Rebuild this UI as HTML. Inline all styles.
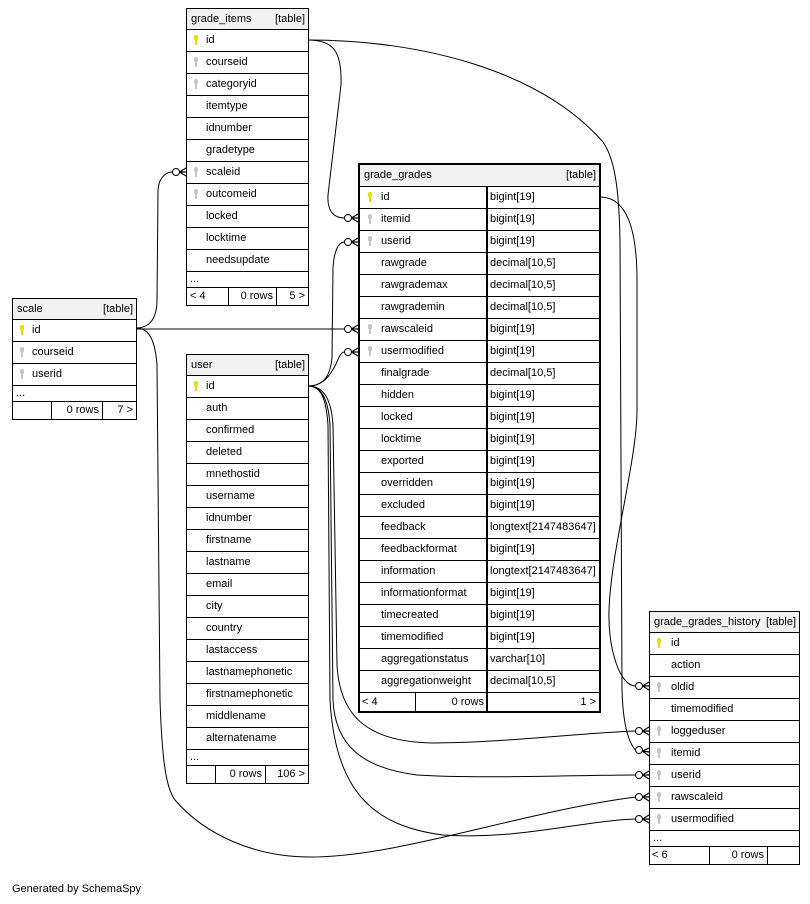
<!DOCTYPE html>
<html><head><meta charset="utf-8"><style>
body{margin:0;width:810px;height:904px;background:#fff;position:relative;font-family:"Liberation Sans",Arial,sans-serif;font-size:11px;color:#000;overflow:hidden}
.t{position:absolute;border:1px solid #000;background:#fff;box-sizing:border-box}
.g{border:2px solid #000}
.h{height:20px;background:#f2f2f2;position:relative;line-height:20px}
.g .h{height:21px;line-height:21px}
.h .n{position:absolute;left:4px}
.h .k{position:absolute;right:3px}
.r{height:22px;border-top:1px solid #000;box-sizing:border-box;position:relative;line-height:21px}
.r .c{position:absolute;left:19px;top:0}
.g .r .c{left:21px}
.r .ty{position:absolute;left:126px;top:0;bottom:0;border-left:2px solid #000;padding-left:2px;right:0}
.d{height:16px;border-top:1px solid #000;box-sizing:border-box;line-height:15px;padding-left:3px}
.f{height:18px;border-top:1px solid #000;box-sizing:border-box;position:relative;line-height:17px}
.g .f{height:19px;line-height:18px}
.f div{position:absolute;top:0;bottom:0;box-sizing:border-box}
.key{position:absolute;left:7px;top:5px;width:4px;height:11px}
.g .key{left:8px}
.key b{position:absolute;left:0;top:0;width:4px;height:5px;border-radius:2px 2px 1px 1px}
.key i{position:absolute;left:1px;top:4px;width:2px;height:6px}
.pk b,.pk i{background:#e8dc00}
.fk b,.fk i{background:#c6c6c6}
svg{position:absolute;left:0;top:0}
</style></head><body>

<!-- grade_items -->
<div class="t" style="left:186px;top:8px;width:123px;height:298px">
<div class="h"><span class="n">grade_items</span><span class="k">[table]</span></div>
<div class="r"><span class="key pk"><b></b><i></i></span><span class="c">id</span></div>
<div class="r"><span class="key fk"><b></b><i></i></span><span class="c">courseid</span></div>
<div class="r"><span class="key fk"><b></b><i></i></span><span class="c">categoryid</span></div>
<div class="r"><span class="c">itemtype</span></div>
<div class="r"><span class="c">idnumber</span></div>
<div class="r"><span class="c">gradetype</span></div>
<div class="r"><span class="key fk"><b></b><i></i></span><span class="c">scaleid</span></div>
<div class="r"><span class="key fk"><b></b><i></i></span><span class="c">outcomeid</span></div>
<div class="r"><span class="c">locked</span></div>
<div class="r"><span class="c">locktime</span></div>
<div class="r"><span class="c">needsupdate</span></div>
<div class="d">...</div>
<div class="f"><div style="left:0;width:42px;border-right:1px solid #000;padding-left:3px">&lt; 4</div><div style="left:42px;width:48px;border-right:1px solid #000;text-align:right;padding-right:3px">0 rows</div><div style="left:90px;right:0;text-align:right;padding-right:3px">5 &gt;</div></div>
</div>

<!-- scale -->
<div class="t" style="left:12px;top:298px;width:125px;height:122px">
<div class="h"><span class="n">scale</span><span class="k">[table]</span></div>
<div class="r"><span class="key pk"><b></b><i></i></span><span class="c">id</span></div>
<div class="r"><span class="key fk"><b></b><i></i></span><span class="c">courseid</span></div>
<div class="r"><span class="key fk"><b></b><i></i></span><span class="c">userid</span></div>
<div class="d">...</div>
<div class="f"><div style="left:0;width:39px;border-right:1px solid #000"></div><div style="left:39px;width:51px;border-right:1px solid #000;text-align:right;padding-right:3px">0 rows</div><div style="left:90px;right:0;text-align:right;padding-right:3px">7 &gt;</div></div>
</div>

<!-- user -->
<div class="t" style="left:186px;top:354px;width:123px;height:430px">
<div class="h"><span class="n">user</span><span class="k">[table]</span></div>
<div class="r"><span class="key pk"><b></b><i></i></span><span class="c">id</span></div>
<div class="r"><span class="c">auth</span></div>
<div class="r"><span class="c">confirmed</span></div>
<div class="r"><span class="c">deleted</span></div>
<div class="r"><span class="c">mnethostid</span></div>
<div class="r"><span class="c">username</span></div>
<div class="r"><span class="c">idnumber</span></div>
<div class="r"><span class="c">firstname</span></div>
<div class="r"><span class="c">lastname</span></div>
<div class="r"><span class="c">email</span></div>
<div class="r"><span class="c">city</span></div>
<div class="r"><span class="c">country</span></div>
<div class="r"><span class="c">lastaccess</span></div>
<div class="r"><span class="c">lastnamephonetic</span></div>
<div class="r"><span class="c">firstnamephonetic</span></div>
<div class="r"><span class="c">middlename</span></div>
<div class="r"><span class="c">alternatename</span></div>
<div class="d">...</div>
<div class="f"><div style="left:0;width:29px;border-right:1px solid #000"></div><div style="left:29px;width:50px;border-right:1px solid #000;text-align:right;padding-right:3px">0 rows</div><div style="left:79px;right:0;text-align:right;padding-right:3px">106 &gt;</div></div>
</div>

<!-- grade_grades -->
<div class="t g" style="left:358px;top:163px;width:243px;height:550px">
<div class="h"><span class="n">grade_grades</span><span class="k">[table]</span></div>
<div class="r"><span class="key pk"><b></b><i></i></span><span class="c">id</span><span class="ty">bigint[19]</span></div>
<div class="r"><span class="key fk"><b></b><i></i></span><span class="c">itemid</span><span class="ty">bigint[19]</span></div>
<div class="r"><span class="key fk"><b></b><i></i></span><span class="c">userid</span><span class="ty">bigint[19]</span></div>
<div class="r"><span class="c">rawgrade</span><span class="ty">decimal[10,5]</span></div>
<div class="r"><span class="c">rawgrademax</span><span class="ty">decimal[10,5]</span></div>
<div class="r"><span class="c">rawgrademin</span><span class="ty">decimal[10,5]</span></div>
<div class="r"><span class="key fk"><b></b><i></i></span><span class="c">rawscaleid</span><span class="ty">bigint[19]</span></div>
<div class="r"><span class="key fk"><b></b><i></i></span><span class="c">usermodified</span><span class="ty">bigint[19]</span></div>
<div class="r"><span class="c">finalgrade</span><span class="ty">decimal[10,5]</span></div>
<div class="r"><span class="c">hidden</span><span class="ty">bigint[19]</span></div>
<div class="r"><span class="c">locked</span><span class="ty">bigint[19]</span></div>
<div class="r"><span class="c">locktime</span><span class="ty">bigint[19]</span></div>
<div class="r"><span class="c">exported</span><span class="ty">bigint[19]</span></div>
<div class="r"><span class="c">overridden</span><span class="ty">bigint[19]</span></div>
<div class="r"><span class="c">excluded</span><span class="ty">bigint[19]</span></div>
<div class="r"><span class="c">feedback</span><span class="ty">longtext[2147483647]</span></div>
<div class="r"><span class="c">feedbackformat</span><span class="ty">bigint[19]</span></div>
<div class="r"><span class="c">information</span><span class="ty">longtext[2147483647]</span></div>
<div class="r"><span class="c">informationformat</span><span class="ty">bigint[19]</span></div>
<div class="r"><span class="c">timecreated</span><span class="ty">bigint[19]</span></div>
<div class="r"><span class="c">timemodified</span><span class="ty">bigint[19]</span></div>
<div class="r"><span class="c">aggregationstatus</span><span class="ty">varchar[10]</span></div>
<div class="r"><span class="c">aggregationweight</span><span class="ty">decimal[10,5]</span></div>
<div class="f"><div style="left:0;width:56px;border-right:1px solid #000;padding-left:2px">&lt; 4</div><div style="left:56px;width:70px;text-align:right;padding-right:2px">0 rows</div><div style="left:126px;right:0;border-left:2px solid #000;text-align:right;padding-right:3px">1 &gt;</div></div>
</div>

<!-- grade_grades_history -->
<div class="t" style="left:649px;top:611px;width:151px;height:254px">
<div class="h"><span class="n">grade_grades_history</span><span class="k">[table]</span></div>
<div class="r"><span class="key pk"><b></b><i></i></span><span class="c" style="left:21px">id</span></div>
<div class="r"><span class="c" style="left:21px">action</span></div>
<div class="r"><span class="key fk"><b></b><i></i></span><span class="c" style="left:21px">oldid</span></div>
<div class="r"><span class="c" style="left:21px">timemodified</span></div>
<div class="r"><span class="key fk"><b></b><i></i></span><span class="c" style="left:21px">loggeduser</span></div>
<div class="r"><span class="key fk"><b></b><i></i></span><span class="c" style="left:21px">itemid</span></div>
<div class="r"><span class="key fk"><b></b><i></i></span><span class="c" style="left:21px">userid</span></div>
<div class="r"><span class="key fk"><b></b><i></i></span><span class="c" style="left:21px">rawscaleid</span></div>
<div class="r"><span class="key fk"><b></b><i></i></span><span class="c" style="left:21px">usermodified</span></div>
<div class="d">...</div>
<div class="f"><div style="left:0;width:60px;border-right:1px solid #000;padding-left:2px">&lt; 6</div><div style="left:60px;width:58px;border-right:1px solid #000;text-align:right;padding-right:3px">0 rows</div><div style="left:118px;right:0"></div></div>
</div>

<svg width="810" height="904" viewBox="0 0 810 904">
<g fill="none" stroke="#000" stroke-width="1">
<path d="M308,40 C334,40 342,52 341,85 L328,195 C327,210 333,218 344.5,218"/>
<path d="M308,40 C420,40 540,70 603,142 C614,158 619,185 620,240 L622,690 C623,722 628,742 635.5,750"/>
<path d="M136,328 C150,328 157,318 157,300 L158,192 C158,180 164,172 172.5,172"/>
<path d="M136,329 L344.5,329"/>
<path d="M136,328 C148,328 155,338 157,365 L160,700 C162,760 166,788 175,800 C205,835 255,857 310,857 C400,857 520,812 635.5,797"/>
<path d="M308,386 C322,386 330,378 332,358 L333,268 C334,252 338,242 344.5,242"/>
<path d="M308,386 C324,386 331,374 336,364 C339,357 341,352 344.5,352"/>
<path d="M308,386 C322,386 331,396 333,425 L337,665 C340,720 372,742 433,743 C500,743 580,733 635.5,731"/>
<path d="M308,386 C320,386 328,396 330,425 L333,700 C335,745 362,768 417,775 C480,779 580,775 635.5,775"/>
<path d="M308,386 C320,386 326,396 328,425 L330,700 C335,790 372,826 443,835 C520,840 580,821 635.5,819"/>
<path d="M600,197 C625,197 637,225 637,280 L637,410 C637,460 611,550 609,610 C608,650 620,686 635.5,686"/>
</g>
<g stroke="#000" stroke-width="1" fill="#fff">
<circle cx="348" cy="218" r="3.5"/><circle cx="348" cy="242" r="3.5"/><circle cx="348" cy="329" r="3.5"/><circle cx="348" cy="352" r="3.5"/>
<circle cx="176" cy="172" r="3.5"/>
<circle cx="639" cy="686" r="3.5"/><circle cx="639" cy="731" r="3.5"/><circle cx="639" cy="750" r="3.5"/><circle cx="639" cy="775" r="3.5"/><circle cx="639" cy="797" r="3.5"/><circle cx="639" cy="819" r="3.5"/>
</g>
<g fill="none" stroke="#000" stroke-width="1.2">
<path d="M351.5,218 L358,214 M351.5,218 L358,218 M351.5,218 L358,222"/>
<path d="M351.5,242 L358,238 M351.5,242 L358,242 M351.5,242 L358,246"/>
<path d="M351.5,329 L358,325 M351.5,329 L358,329 M351.5,329 L358,333"/>
<path d="M351.5,352 L358,348 M351.5,352 L358,352 M351.5,352 L358,356"/>
<path d="M179.5,172 L186,168 M179.5,172 L186,172 M179.5,172 L186,176"/>
<path d="M642.5,686 L649,682 M642.5,686 L649,686 M642.5,686 L649,690"/>
<path d="M642.5,731 L649,727 M642.5,731 L649,731 M642.5,731 L649,735"/>
<path d="M642.5,751 L649,748 M642.5,751 L649,752 M642.5,751 L649,756"/>
<path d="M642.5,775 L649,771 M642.5,775 L649,775 M642.5,775 L649,779"/>
<path d="M642.5,797 L649,793 M642.5,797 L649,797 M642.5,797 L649,801"/>
<path d="M642.5,819 L649,815 M642.5,819 L649,819 M642.5,819 L649,823"/>
</g>
</svg>

<div style="position:absolute;left:12px;top:882px;line-height:14px">Generated by SchemaSpy</div>
</body></html>
